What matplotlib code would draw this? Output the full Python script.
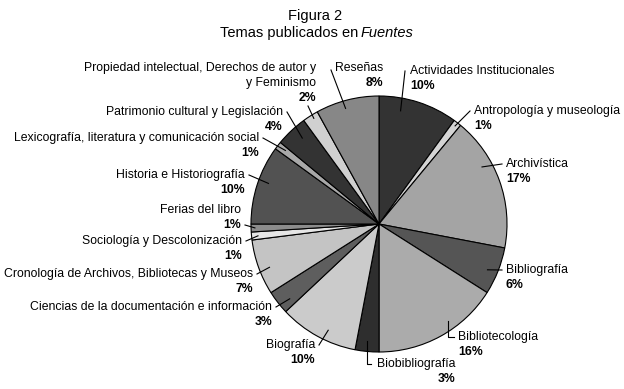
import numpy as np
import matplotlib
matplotlib.use('Agg')
import matplotlib.pyplot as plt

# data
temas = [
    ['Actividades Institucionales'],
    ['Antropología y museología'],
    ['Archivística'],
    ['Bibliografía'],
    ['Bibliotecología'],
    ['Biobibliografía'],
    ['Biografía'],
    ['Ciencias de la documentación e información'],
    ['Cronología de Archivos, Bibliotecas y Museos'],
    ['Sociología y Descolonización'],
    ['Ferias del libro'],
    ['Historia e Historiografía'],
    ['Lexicografía, literatura y comunicación social'],
    ['Patrimonio cultural y Legislación'],
    ['Propiedad intelectual, Derechos de autor y', 'y Feminismo'],
    ['Reseñas'],
]
porcentajes = [10, 1, 17, 6, 16, 3, 10, 3, 7, 1, 1, 10, 1, 4, 2, 8]
grises = ['#333333', '#d4d4d4', '#a4a4a4', '#555555', '#ababab', '#2e2e2e',
          '#cbcbcb', '#5e5e5e', '#c4c4c4', '#e6e6e6', '#8c8c8c', '#525252',
          '#a8a8a8', '#333333', '#d0d0d0', '#878787']

# layout (pixel coordinates, y measured from top)
W, H = 624, 389
centro = (379, 224)
radio = 128
label_pos = [(410, 71), (474, 111), (506, 164), (506, 270), (458, 337),
             (455, 364), (315, 345), (272, 307), (253, 274), (242, 241),
             (241, 210), (245, 175), (259, 138), (283, 112), (316, 68),
             (383, 68)]
label_ha = ['left'] * 5 + ['right'] * 11
# leader lines: start point near the text, position inside the wedge
# (t = fraction of the wedge measured clockwise, r = fraction of radius)
leader_start = [(405, 71), (470, 111), (502, 164), (502, 270), (454, 337),
                (371, 364), (319, 345), (276, 307), (257, 274), (246, 241),
                (245, 225), (249, 175), (263, 138), (287, 112), (308, 106),
                (331, 70)]
leader_codo = [False, False, False, False, True, True, False, False, False,
               False, False, False, False, False, False, False]
anchor_t = [0.3, 0.5, 0.35, 0.56, 0.39, 0.55, 0.41, 0.3, 0.43, 0.45, 0.5,
            0.56, 0.6, 0.6, 0.6, 0.44]
anchor_r = [0.9, 0.97, 0.92, 0.92, 0.93, 0.92, 0.92, 0.91, 0.92, 0.95, 0.97,
            0.92, 0.93, 0.9, 0.97, 0.94]
line_h = 15

fuente = ['Liberation Sans', 'DejaVu Sans']

fig = plt.figure(figsize=(W / 100, H / 100), dpi=100, facecolor='white')
ax = fig.add_axes([0, 0, 1, 1])

wedges, _ = ax.pie(porcentajes, colors=grises, startangle=90, counterclock=False,
                   center=(centro[0], H - centro[1]), radius=radio,
                   wedgeprops=dict(edgecolor='black', linewidth=0.8))

ax.set_xlim(0, W)
ax.set_ylim(0, H)
ax.set_aspect('equal')
ax.axis('off')

for w, nombre, pct, (lx, ly), ha, (sx, sy), codo, t, fr in zip(
        wedges, temas, porcentajes, label_pos, label_ha, leader_start,
        leader_codo, anchor_t, anchor_r):
    # clockwise pie: the wedge starts at theta2
    ang = np.deg2rad(w.theta2 - t * (w.theta2 - w.theta1))
    px = centro[0] + fr * radio * np.cos(ang)
    py = (H - centro[1]) + fr * radio * np.sin(ang)
    for i, linea in enumerate(nombre):
        ax.text(lx, H - ly - i * line_h, linea, ha=ha, va='center',
                fontsize=8.8, family=fuente)
    ax.text(lx, H - ly - len(nombre) * line_h, f'{pct}%', ha=ha, va='center',
            fontsize=8.8, fontweight='bold', family=fuente)
    if codo:
        ax.plot([sx, px, px], [H - sy, H - sy, py], color='black', linewidth=0.8)
    else:
        ax.plot([sx, px], [H - sy, py], color='black', linewidth=0.8)

ax.text(315, H - 16, 'Figura 2', ha='center', va='center', fontsize=10.5,
        family=fuente)
ax.text(358, H - 33, 'Temas publicados en', ha='right', va='center', fontsize=10.5,
        family=fuente)
ax.text(361, H - 33, 'Fuentes', ha='left', va='center', fontsize=10.5,
        style='italic', family=fuente)

fig.savefig('out.png', dpi=100, facecolor='white')
